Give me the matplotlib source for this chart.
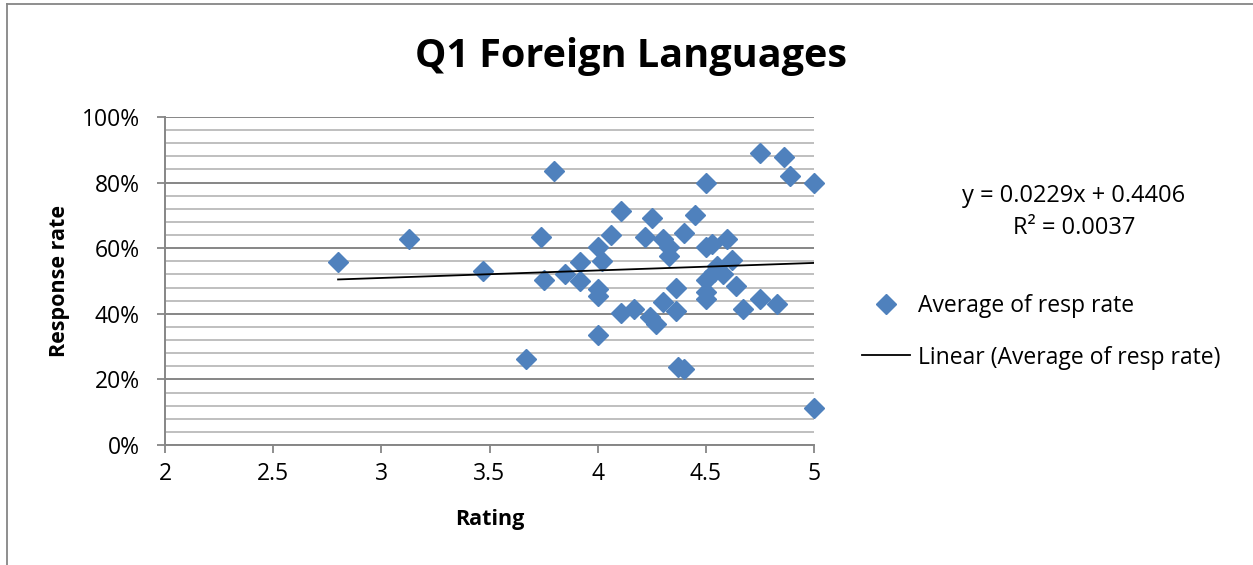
import matplotlib
matplotlib.use("Agg")
import matplotlib.pyplot as plt
from matplotlib.lines import Line2D
from matplotlib.ticker import MultipleLocator, FuncFormatter
import numpy as np

# ---- data ----
rating = [2.80, 3.13, 3.47, 3.67, 3.74, 3.75, 3.80, 3.85, 3.92, 3.92,
          4.00, 4.02, 4.00, 4.00, 4.00, 4.06, 4.11, 4.11, 4.17, 4.22,
          4.25, 4.24, 4.27, 4.30, 4.30, 4.33, 4.33, 4.36, 4.36, 4.37,
          4.40, 4.40, 4.45, 4.50, 4.50, 4.53, 4.60, 4.62, 4.50, 4.54,
          4.55, 4.58, 4.50, 4.50, 4.64, 4.67, 4.75, 4.83, 4.75, 4.86,
          4.89, 5.00, 5.00]
resp_rate = [0.557, 0.627, 0.530, 0.262, 0.635, 0.502, 0.834, 0.521, 0.557, 0.500,
             0.605, 0.560, 0.476, 0.455, 0.335, 0.641, 0.712, 0.401, 0.415, 0.635,
             0.692, 0.391, 0.368, 0.627, 0.436, 0.605, 0.576, 0.480, 0.409, 0.239,
             0.231, 0.647, 0.702, 0.800, 0.605, 0.612, 0.627, 0.564, 0.504, 0.526,
             0.545, 0.520, 0.465, 0.444, 0.485, 0.414, 0.446, 0.430, 0.889, 0.877,
             0.820, 0.800, 0.112]
trend_slope = 0.0229
trend_intercept = 0.4406
trend_r2 = 0.0037
title = "Q1 Foreign Languages"
x_label = "Rating"
y_label = "Response rate"
series_label = "Average of resp rate"
trend_label = "Linear (Average of resp rate)"
x_ticks = [2, 2.5, 3, 3.5, 4, 4.5, 5]
y_ticks = [0, 0.2, 0.4, 0.6, 0.8, 1.0]

FONT = "Open Sans"
plt.rcParams["font.family"] = [FONT, "DejaVu Sans"]

W, H, DPI = 1253, 565, 100
fig = plt.figure(figsize=(W / DPI, H / DPI), dpi=DPI)
fig.patch.set_facecolor("white")

# axes box in pixels: left 165, right 814, top 117, bottom 445
L, R, T, B = 165, 814, 117, 445
ax = fig.add_axes([L / W, 1 - B / H, (R - L) / W, (B - T) / H])

grid_major = "#868686"
grid_minor = "#BFBFBF"
axis_col = "#868686"

ax.set_xlim(2, 5)
ax.set_ylim(0, 1.0)
ax.set_xticks(x_ticks)
ax.set_xticklabels([("%g" % t) for t in x_ticks])
ax.set_yticks(y_ticks)
ax.yaxis.set_major_formatter(FuncFormatter(lambda v, p: "%d%%" % round(v * 100)))
ax.yaxis.set_minor_locator(MultipleLocator(0.04))

ax.grid(True, axis="y", which="major", color=grid_major, linewidth=1.4, zorder=0)
ax.grid(True, axis="y", which="minor", color=grid_minor, linewidth=1.4, zorder=0)
ax.set_axisbelow(True)

for s in ["top", "right"]:
    ax.spines[s].set_visible(False)
for s in ["left", "bottom"]:
    ax.spines[s].set_color(axis_col)
    ax.spines[s].set_linewidth(1.4)

TICK_FS = 16.5
ax.tick_params(axis="both", which="major", direction="out", length=5.8, width=1.3,
               color=axis_col, labelsize=TICK_FS, labelcolor="black")
ax.tick_params(axis="y", which="minor", length=0)
ax.tick_params(axis="x", pad=6.5)
ax.tick_params(axis="y", pad=12.5)

# scatter
ax.plot(rating, resp_rate, linestyle="none", marker="D", markersize=10.5,
        color="#4F81BD", markeredgecolor="#4F81BD", label=series_label, zorder=3,
        clip_on=False)

# linear trend line
tx = np.array([min(rating), max(rating)])
ty = trend_slope * tx + trend_intercept
ax.plot(tx, ty, color="black", linewidth=1.3, label=trend_label, zorder=4)

ax.set_xlabel(x_label, fontsize=15.5, fontweight="bold", va="center")
ax.xaxis.set_label_coords(0.5, (B - 519) / (B - T))
ax.set_ylabel(y_label, fontsize=15.5, fontweight="bold", va="center")
ax.yaxis.set_label_coords((59 - L) / (R - L), 0.5)

fig.text(631 / W, 1 - 57 / H, title, fontsize=28.5, fontweight="bold",
         ha="center", va="center")

# trendline equation
fig.text(1074 / W, 1 - 212 / H,
         "y = %.4fx + %.4f\nR\u00b2 = %.4f" % (trend_slope, trend_intercept, trend_r2),
         fontsize=17, ha="center", va="center", linespacing=1.47)

leg = ax.legend(loc="upper left", bbox_to_anchor=(862 / W, 1 - 294 / H),
                bbox_transform=fig.transFigure, frameon=False, fontsize=16.5,
                handlelength=2.1, handletextpad=0.35, labelspacing=1.2,
                borderaxespad=0, borderpad=0)

# outer chart border (top and left visible)
fig.add_artist(Line2D([7 / W, 1], [1 - 4 / H, 1 - 4 / H], transform=fig.transFigure,
                      color="#868686", linewidth=1.3))
fig.add_artist(Line2D([7 / W, 7 / W], [0, 1 - 4 / H], transform=fig.transFigure,
                      color="#868686", linewidth=1.3))

fig.savefig("out.png", dpi=DPI, facecolor="white")
